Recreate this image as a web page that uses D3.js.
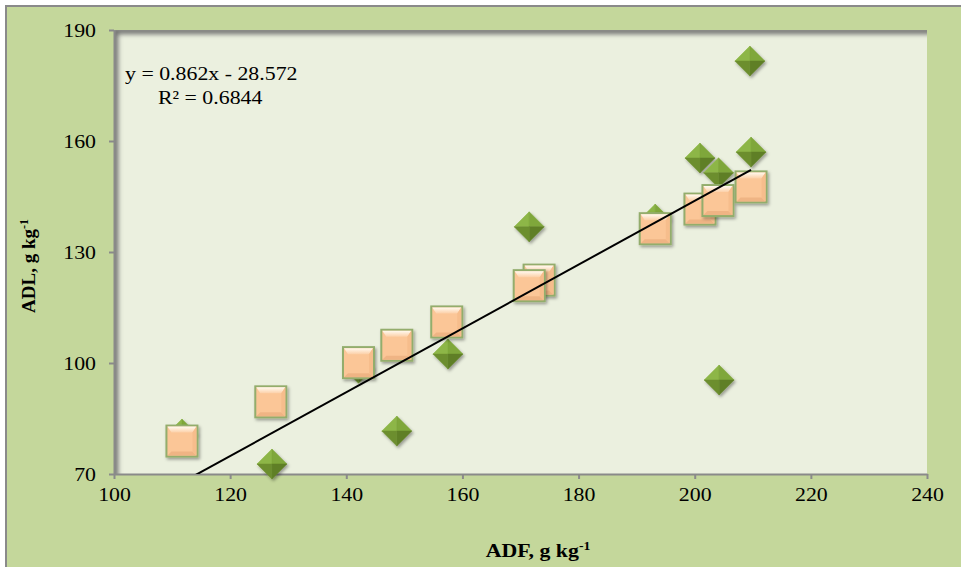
<!DOCTYPE html>
<html>
<head>
<meta charset="utf-8">
<script src="https://cdn.jsdelivr.net/npm/d3@7"></script>
<style>
  body { margin: 0; background: #fff; }
  #chart-one { width: 961px; height: 567px; }
  text { font-family: "Liberation Serif", "Times New Roman", serif; }
</style>
</head>
<body>
<div id="chart-one"></div>
<script>
// Datos
let squareAdf = [111.7, 127.0, 142.1, 148.7, 157.3, 173.2, 171.5, 193.2, 200.9, 204.0, 209.7];
let squareAdl = [78.9, 89.5, 100.1, 104.8, 111.1, 122.4, 120.9, 136.3, 141.6, 143.9, 147.6];
let diamondAdf = [111.7, 127.2, 142.1, 148.7, 157.5, 171.5, 193.2, 200.9, 204.1, 204.2, 209.7, 209.5];
let diamondAdl = [80.8, 72.7, 98.6, 81.6, 102.4, 136.8, 138.9, 155.4, 151.4, 95.4, 157.0, 181.6];
let xTicks = [100, 120, 140, 160, 180, 200, 220, 240];
let yTicks = [70, 100, 130, 160, 190];
let trendSlope = 0.862, trendIntercept = -28.572;
let equationText = 'y = 0.862x - 28.572';
let r2Text = 'R² = 0.6844';

let stretch = 1.15; //el texto original está algo ensanchado

let chartBlock = d3.select('#chart-one');
let svg = chartBlock.append('svg').attr('width', 961).attr('height', 567);
let defs = svg.append('defs');

//Filtros y degradados
let shadow = defs.append('filter').attr('id', 'markShadow')
    .attr('x', '-30%').attr('y', '-30%').attr('width', '170%').attr('height', '170%');
shadow.append('feDropShadow').attr('dx', 1.5).attr('dy', 2).attr('stdDeviation', 1.5)
    .attr('flood-color', '#000').attr('flood-opacity', 0.35);

let blur = defs.append('filter').attr('id', 'edgeBlur')
    .attr('x', '-10%').attr('y', '-10%').attr('width', '120%').attr('height', '120%');
blur.append('feGaussianBlur').attr('stdDeviation', 2.5);

let topGrad = defs.append('linearGradient').attr('id', 'sqTop')
    .attr('x1', 0).attr('y1', 0).attr('x2', 0).attr('y2', 1);
topGrad.append('stop').attr('offset', '0%').attr('stop-color', '#fffaf0');
topGrad.append('stop').attr('offset', '100%').attr('stop-color', '#fcd0a8');

//Fondo general
svg.append('rect')
    .attr('x', 6).attr('y', 6).attr('width', 980).attr('height', 600)
    .style('fill', '#c4d79b').style('stroke', '#8a8a8a').style('stroke-width', 2);

let margin = {top: 30, right: 34, bottom: 93, left: 114};
let width = 961 - margin.left - margin.right;
let height = 567 - margin.top - margin.bottom;

let chart = svg.append('g').attr('transform', 'translate(' + margin.left + ',' + margin.top + ')');

let x = d3.scaleLinear().domain([100, 240]).range([0, width]);
let y = d3.scaleLinear().domain([70, 190]).range([height, 0]);

//Área de trazado
defs.append('clipPath').attr('id', 'plotClip')
    .append('rect').attr('width', width).attr('height', height);

chart.append('rect').attr('width', width).attr('height', height).style('fill', '#ebf0df');
chart.append('g').attr('clip-path', 'url(#plotClip)')
    .append('path')
    .attr('d', 'M1,' + (height + 10) + 'V1H' + (width + 10))
    .attr('filter', 'url(#edgeBlur)')
    .style('fill', 'none').style('stroke', '#6b6b6b').style('stroke-width', 6);

//Ejes
function styleTicks(g) {
    g.select('.domain').style('stroke', '#8a8a8a').style('stroke-width', 2);
    g.selectAll('.tick line').style('stroke', '#8a8a8a').style('stroke-width', 2);
    g.selectAll('.tick text').style('font-size', '19px').style('fill', '#000')
        .style('font-family', '"Liberation Serif", serif')
        .attr('x', function() { return (+this.getAttribute('x') || 0) / stretch; })
        .attr('transform', 'scale(' + stretch + ',1)');
}
let xAxis = function(g) {
    g.call(d3.axisBottom(x).tickValues(xTicks).tickSize(5).tickPadding(9).tickSizeOuter(0));
    styleTicks(g);
};
let yAxis = function(g) {
    g.call(d3.axisLeft(y).tickValues(yTicks).tickSize(5).tickPadding(13).tickSizeOuter(0));
    styleTicks(g);
};
chart.append('g').attr('transform', 'translate(0,' + height + ')').call(xAxis);
chart.append('g').call(yAxis);

//Rombos
let d = 15;
let diamonds = chart.selectAll('.diamond')
    .data(diamondAdf.map(function(v, i) { return {adf: v, adl: diamondAdl[i]}; }))
    .enter().append('g')
    .attr('class', 'diamond')
    .attr('filter', 'url(#markShadow)')
    .attr('transform', function(p) { return 'translate(' + x(p.adf) + ',' + y(p.adl) + ')'; });
let facets = [
    {path: 'M0,0L0,-' + d + 'L-' + d + ',0Z', fill: '#8db647'},
    {path: 'M0,0L0,-' + d + 'L' + d + ',0Z', fill: '#7fa73a'},
    {path: 'M0,0L' + d + ',0L0,' + d + 'Z', fill: '#5f7f27'},
    {path: 'M0,0L-' + d + ',0L0,' + d + 'Z', fill: '#6c8e2f'}
];
facets.forEach(function(f) {
    diamonds.append('path').attr('d', f.path).style('fill', f.fill)
        .style('stroke', f.fill).style('stroke-width', 0.5);
});

//Cuadrados
let s = 15.5, b = 5;
let squares = chart.selectAll('.square')
    .data(squareAdf.map(function(v, i) { return {adf: v, adl: squareAdl[i]}; }))
    .enter().append('g')
    .attr('class', 'square')
    .attr('filter', 'url(#markShadow)')
    .attr('transform', function(p) { return 'translate(' + x(p.adf) + ',' + y(p.adl) + ')'; });
squares.append('rect')
    .attr('x', -s).attr('y', -s).attr('width', 2 * s).attr('height', 2 * s)
    .style('fill', '#fbc697').style('stroke', '#93ad6c').style('stroke-width', 2);
squares.append('path')
    .attr('d', 'M' + (-s + 1) + ',' + (-s + 1) + 'H' + (s - 1) + 'L' + (s - b) + ',' + (-s + b + 2) + 'H' + (-s + b) + 'Z')
    .style('fill', 'url(#sqTop)');
squares.append('path')
    .attr('d', 'M' + (-s + 1) + ',' + (s - 1) + 'H' + (s - 1) + 'L' + (s - b) + ',' + (s - b) + 'H' + (-s + b) + 'Z')
    .style('fill', '#efb484');
squares.append('path')
    .attr('d', 'M' + (s - 1) + ',' + (-s + 1) + 'V' + (s - 1) + 'L' + (s - b) + ',' + (s - b) + 'V' + (-s + b + 2) + 'Z')
    .style('fill', '#f6bd8c');

//Línea de tendencia
let allAdf = squareAdf.concat(diamondAdf);
let trendX = d3.extent(allAdf);
chart.append('g').attr('clip-path', 'url(#plotClip)')
    .append('line')
    .attr('x1', x(trendX[0])).attr('y1', y(trendSlope * trendX[0] + trendIntercept))
    .attr('x2', x(trendX[1])).attr('y2', y(trendSlope * trendX[1] + trendIntercept))
    .style('stroke', '#000').style('stroke-width', 2);

//Textos
svg.append('text')
    .attr('transform', 'translate(125,80) scale(' + stretch + ',1)')
    .style('font-size', '19px').text(equationText);
svg.append('text')
    .attr('transform', 'translate(158,104) scale(' + stretch + ',1)')
    .style('font-size', '19px').text(r2Text);

let xTitle = svg.append('text')
    .attr('transform', 'translate(538,557) scale(' + stretch + ',1)')
    .attr('text-anchor', 'middle')
    .style('font-size', '19px').style('font-weight', 'bold');
xTitle.append('tspan').text('ADF, g kg');
xTitle.append('tspan').attr('dy', -7).style('font-size', '12px').text('-1');

let yTitle = svg.append('text')
    .attr('transform', 'translate(35,266) rotate(-90)')
    .attr('text-anchor', 'middle')
    .style('font-size', '19px').style('font-weight', 'bold');
yTitle.append('tspan').text('ADL, g kg');
yTitle.append('tspan').attr('dy', -7).style('font-size', '12px').text('-1');
</script>
</body>
</html>
